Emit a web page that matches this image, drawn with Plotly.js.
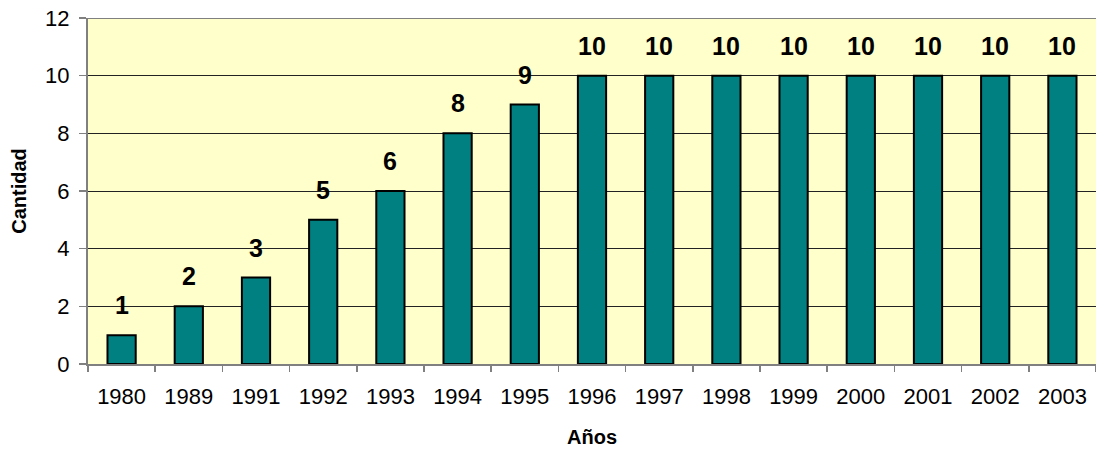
<!DOCTYPE html>
<html>
<head>
<meta charset="utf-8">
<script src="https://cdn.plot.ly/plotly-3.0.1.min.js"></script>
<style>html,body{margin:0;padding:0;background:#fff;}#chart{width:1096px;height:453px;}</style>
</head>
<body>
<div id="chart"></div>
<script>
const years = ["1980","1989","1991","1992","1993","1994","1995","1996","1997","1998","1999","2000","2001","2002","2003"];
const cantidad = [1,2,3,5,6,8,9,10,10,10,10,10,10,10,10];
const yTicks = [0,2,4,6,8,10,12];

const trace = {
  type: 'bar',
  x: years,
  y: cantidad,
  textposition: 'none',
  marker: {color: '#008080', line: {color: '#000000', width: 2}},
  hoverinfo: 'skip'
};

const annotations = years.map((yr, i) => ({
  x: i, y: cantidad[i], xref: 'x', yref: 'y',
  text: String(cantidad[i]), showarrow: false,
  yanchor: 'bottom', yshift: 14,
  font: {family: 'Liberation Sans, Arial, sans-serif', size: 25, color: '#000', weight: 'bold'}
}));

const layout = {
  width: 1096, height: 453,
  margin: {l: 88, r: 0, t: 18, b: 89, pad: 0},
  paper_bgcolor: '#ffffff',
  plot_bgcolor: '#FFFFCC',
  bargap: 0.58,
  showlegend: false,
  font: {family: 'Liberation Sans, Arial, sans-serif', size: 21, color: '#000'},
  xaxis: {
    type: 'category',
    range: [-0.5, years.length - 0.5],
    tickson: 'boundaries',
    tickangle: 0,
    ticks: 'outside', ticklen: 6, tickcolor: '#808080', tickwidth: 1.5,
    ticklabelstandoff: 12,
    showline: true, linecolor: '#808080', linewidth: 2,
    showgrid: false, zeroline: false,
    tickfont: {size: 22},
    title: {text: 'Años', font: {size: 20, weight: 'bold'}, standoff: 22},
    automargin: true
  },
  yaxis: {
    range: [0, 12],
    tickvals: yTicks,
    ticks: 'outside', ticklen: 7, tickcolor: '#808080', tickwidth: 1.5,
    ticklabelstandoff: 5,
    showline: true, linecolor: '#808080', linewidth: 2,
    showgrid: true, gridcolor: '#222222', gridwidth: 1,
    zeroline: false,
    tickfont: {size: 22},
    title: {text: 'Cantidad', font: {size: 20, weight: 'bold'}, standoff: 13},
    automargin: true
  },
  shapes: [{
    type: 'line', xref: 'paper', yref: 'y', x0: 0, x1: 1, y0: 12, y1: 12,
    line: {color: '#808080', width: 2}
  }],
  annotations: annotations
};

Plotly.newPlot('chart', [trace], layout, {displayModeBar: false, staticPlot: true});
</script>
</body>
</html>
